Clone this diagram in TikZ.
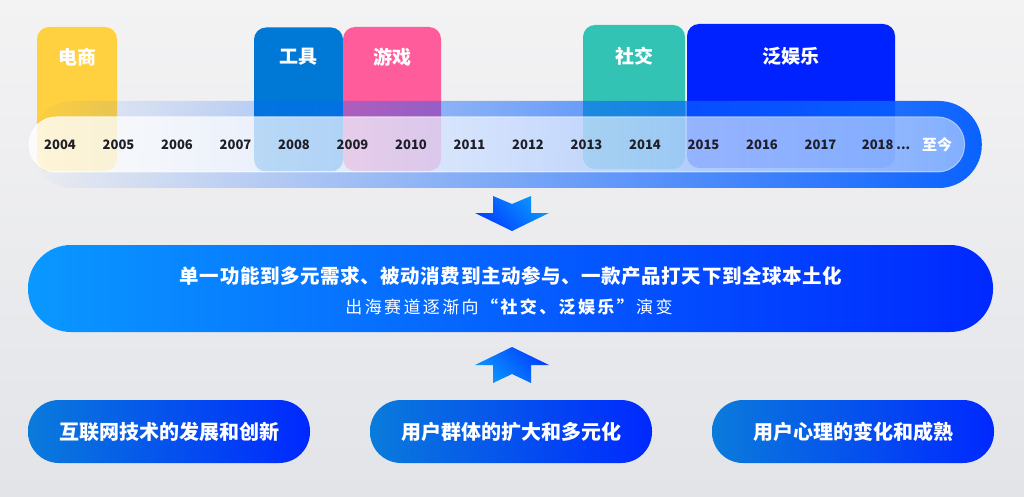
\documentclass[tikz,border=0pt]{standalone}
\usepackage{fontspec}
\setmainfont{Noto Sans CJK SC}
\usepackage{tikz}
\usetikzlibrary{positioning,fadings}
\usepackage{xcolor}
\definecolor{bgtop}{HTML}{F3F3F4}
\definecolor{bgbot}{HTML}{E3E4E8}
\definecolor{tagyellow}{HTML}{FFD03F}
\definecolor{tagblue}{HTML}{0079D6}
\definecolor{tagpink}{HTML}{FF5C9C}
\definecolor{tagteal}{HTML}{33C3B4}
\definecolor{tagdeep}{HTML}{0022FF}
\definecolor{bandblue}{HTML}{0A62FF}
\definecolor{skyblue}{HTML}{0A98FF}
\definecolor{royal}{HTML}{0028FF}
\definecolor{ocean}{HTML}{0A7BDB}
\definecolor{yeartxt}{HTML}{1E1E28}
\tikzfading[name=bandfade, left color=transparent!100, middle color=transparent!55, right color=transparent!0]
\tikzfading[name=barfade, left color=transparent!20, right color=transparent!52]

\begin{document}
\begin{tikzpicture}[x=1pt, y=-1pt,
  every node/.style={inner sep=0pt, outer sep=0pt},
  tag/.style={rounded corners=12pt, minimum height=144pt, minimum width=#1},
  tagtxt/.style={text=white, font=\fontsize{19}{22}\selectfont\bfseries},
  yr/.style={text=yeartxt, font=\fontsize{13}{15}\selectfont\bfseries},
  band/.style={minimum width=952pt, minimum height=87pt, rounded corners=43pt, fill=bandblue, path fading=bandfade},
  bar/.style={minimum width=937pt, minimum height=55pt, rounded corners=27pt, fill=white, draw=white, line width=1pt, path fading=barfade},
  pill/.style={minimum width=282pt, minimum height=63pt, rounded corners=31pt, left color=ocean, right color=royal,
    text=white, font=\fontsize{20}{24}\selectfont\bfseries},
  blockdown/.style={top color=skyblue, bottom color=royal!80!skyblue, shading angle=-45},
  blockup/.style={top color=royal!80!skyblue, bottom color=skyblue, shading angle=-45}
]
\shade[top color=bgtop, bottom color=bgbot] (0,0) rectangle (1024,497);
\useasboundingbox (0,0) rectangle (1024,497);

% category tags
\node[tag=80pt, fill=tagyellow] (shop) at (77,99) {};
\node[tag=89pt, fill=tagblue] (tool) at (298.5,99.5) {};
\node[tag=98pt, fill=tagpink] (game) at (392,99) {};
\node[tag=102pt, fill=tagteal] (social) at (634,97) {};
\node[tag=208pt, fill=tagdeep] (fun) at (791,96) {};
\node[tagtxt] (shopl) at (77,57) {电商};
\node[tagtxt] (tooll) at (298.5,57) {工具};
\node[tagtxt] (gamel) at (392,57) {游戏};
\node[tagtxt] (sociall) at (634,56) {社交};
\node[tagtxt] (funl) at (791,56) {泛娱乐};

% timeline
\node[band] (line) at (506,144.5) {};
\node[bar] (track) at (498.5,144.5) {};
\foreach \yy [count=\i from 0] in {2004,2005,2006,2007,2008,2009,2010,2011,2012,2013,2014,2015,2016,2017}
  \node[yr] (y\yy) at (60+58.5*\i,145) {\yy};
\node[yr] (y2018) at (886,145) {2018 ...};
\node[text=white, font=\fontsize{15}{17}\selectfont\bfseries] (now) at (937,145) {至今};

% down arrow
\coordinate (dn) at (512,204);
\shade[blockdown] (dn) -- ++(19,-8) -- ++(0,17) -- ++(18,0) -- ++(-37,18) -- ++(-37,-18) -- ++(18,0) -- ++(0,-17) -- cycle;

% summary
\node[minimum width=965pt, minimum height=87pt, rounded corners=43pt, left color=skyblue, right color=royal] (core) at (510.5,288.5) {};
\node[text=white, font=\fontsize{19.5}{23}\selectfont\bfseries\addfontfeatures{LetterSpace=3}] (corea) at (511,276)
  {单一功能到多元需求、被动消费到主动参与、一款产品打天下到全球本土化};
\node[text=white, font=\fontsize{17}{20}\selectfont\addfontfeatures{LetterSpace=14}] (coreb) at (509,307)
  {出海赛道逐渐向\textbf{“社交、泛娱乐”}演变};

% up arrow
\coordinate (up) at (512,347);
\shade[blockup] (up) -- ++(37,18) -- ++(-18,0) -- ++(0,18) -- ++(-19,-9) -- ++(-19,9) -- ++(0,-18) -- ++(-18,0) -- cycle;

% drivers
\node[pill] (tech) at (169,431.5) {互联网技术的发展和创新};
\node[pill, right=60pt of tech] (users) {用户群体的扩大和多元化};
\node[pill, right=60pt of users] (mind) {用户心理的变化和成熟};
\end{tikzpicture}
\end{document}
